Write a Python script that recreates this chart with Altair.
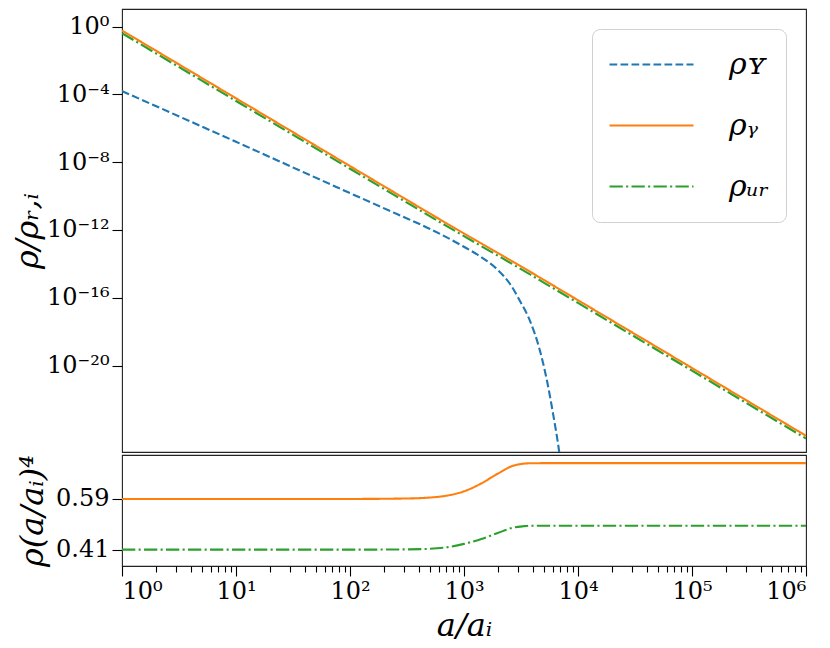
import altair as alt
import pandas as pd

# ---- data ----
series_labels = ["ρʏ", "ρᵧ", "ρᵤᵣ"]
series_colors = ["#1f77b4", "#ff7f0e", "#2ca02c"]
series_dashes = [[7.7, 3.3], [1, 0], [13.3, 3.3, 2.1, 3.3]]

a_lines = [1, 10, 100, 300, 500, 700, 1000, 1400, 2000, 2700, 3300, 3800, 5000, 1e4, 1e5, 1e6]
rho_gamma = [5.9e-1, 5.9e-5, 5.9e-9, 7.30e-11, 9.52e-12, 2.505e-12, 6.17e-13, 1.676e-13,
             4.26e-14, 1.332e-14, 6.03e-15, 3.437e-15, 1.147e-15, 7.17e-17, 7.17e-21, 7.17e-25]
rho_ur = [4.1e-1, 4.1e-5, 4.1e-9, 5.07e-11, 6.61e-12, 1.741e-12, 4.305e-13, 1.164e-13,
          2.94e-14, 9.18e-15, 4.157e-15, 2.374e-15, 7.92e-16, 4.95e-17, 4.95e-21, 4.95e-25]

a_Y = [1, 10, 100, 258, 504, 980, 1380, 1945, 2535, 3097, 3793, 4645, 5346, 6039, 6808, 7413]
rho_Y = [1.58e-4, 1.6e-7, 1.5e-10, 8.7e-12, 1.15e-12, 1.10e-13, 2.82e-14, 4.9e-15,
         6.5e-16, 6.5e-17, 4.3e-18, 7.2e-20, 1.26e-21, 1.45e-23, 1.0e-25, 1e-27]

scaled_gamma = [0.59, 0.59, 0.59, 0.5915, 0.595, 0.6015, 0.617, 0.644,
                0.681, 0.708, 0.715, 0.7167, 0.717, 0.717, 0.717, 0.717]
scaled_ur = [0.41, 0.41, 0.41, 0.411, 0.413, 0.418, 0.4305, 0.447,
             0.470, 0.488, 0.493, 0.495, 0.495, 0.495, 0.495, 0.495]

y_top_ticks = [1, 1e-4, 1e-8, 1e-12, 1e-16, 1e-20]
y_top_exps = [0, -4, -8, -12, -16, -20]
x_major_exps = [0, 1, 2, 3, 4, 5, 6]
x_ticks = [m * 10 ** k for k in range(6) for m in range(1, 10)] + [1e6]
y_bot_ticks = [0.41, 0.59]

# ---- tables ----
top_df = pd.DataFrame({
    "a": a_Y + a_lines + a_lines,
    "value": rho_Y + rho_gamma + rho_ur,
    "series": [series_labels[0]] * len(a_Y) + [series_labels[1]] * len(a_lines) + [series_labels[2]] * len(a_lines),
})
bot_df = pd.DataFrame({
    "a": a_lines + a_lines,
    "value": scaled_gamma + scaled_ur,
    "series": [series_labels[1]] * len(a_lines) + [series_labels[2]] * len(a_lines),
})

SUP = str.maketrans("-0123456789", "⁻⁰¹²³⁴⁵⁶⁷⁸⁹")
LG = "round(log(datum.value)/LN10)"
MAJOR = f"abs(log(datum.value)/LN10 - {LG}) < 1e-6"


def pow_expr(exps):
    obj = ", ".join(f"'{e}': '10{str(e).translate(SUP)}'" for e in exps)
    return f"{MAJOR} ? ({{{obj}}})['' + {LG}] : ''"


FONT = "DejaVu Serif"

color_scale = alt.Scale(domain=series_labels, range=series_colors)
dash_scale = alt.Scale(domain=series_labels, range=series_dashes)
x_scale = alt.Scale(type="log", domain=[1, 1e6], nice=False)

top = alt.Chart(top_df).mark_line(clip=True, strokeWidth=2.1, interpolate="monotone").encode(
    x=alt.X("a:Q", scale=x_scale,
            axis=alt.Axis(labels=False, ticks=False, domain=False, grid=False, title=None)),
    y=alt.Y("value:Q",
            scale=alt.Scale(type="log", domain=[7.9e-26, 11], nice=False),
            axis=alt.Axis(values=y_top_ticks, labelExpr=pow_expr(y_top_exps), tickSize=10,
                          labelPadding=3, title="ρ/ρᵣ,ᵢ", titlePadding=2, labelOverlap=False,
                          grid=False, domain=False)),
    color=alt.Color("series:N", scale=color_scale, sort=series_labels,
                    legend=alt.Legend(title=None, orient="top-right", offset=20,
                                      padding=16, cornerRadius=8, strokeColor="#d0d0d0",
                                      fillColor="white", symbolType="stroke", symbolSize=7056,
                                      symbolStrokeWidth=2.1, labelFontSize=30,
                                      labelFontStyle="italic", labelFont=FONT, labelOffset=34,
                                      clipHeight=39, rowPadding=22)),
    strokeDash=alt.StrokeDash("series:N", scale=dash_scale, sort=series_labels),
).properties(width=684, height=443)

bottom = alt.Chart(bot_df).mark_line(clip=True, strokeWidth=2.1, interpolate="monotone").encode(
    x=alt.X("a:Q", scale=x_scale,
            axis=alt.Axis(values=x_ticks, labelExpr=pow_expr(x_major_exps),
                          tickSize={"condition": {"test": MAJOR, "value": 10}, "value": 6},
                          labelPadding=3, labelOverlap=False, title="a/aᵢ", titlePadding=7,
                          grid=False, domain=False)),
    y=alt.Y("value:Q", scale=alt.Scale(domain=[0.352, 0.746], nice=False, zero=False),
            axis=alt.Axis(values=y_bot_ticks, format=".2f", tickSize=10, labelPadding=3,
                          title="ρ(a/aᵢ)⁴", titlePadding=6, grid=False, domain=False)),
    color=alt.Color("series:N", scale=color_scale, legend=None),
    strokeDash=alt.StrokeDash("series:N", scale=dash_scale, legend=None),
).properties(width=684, height=111)

chart = alt.vconcat(
    top, bottom, spacing=0, padding={"left": 3, "top": 0, "right": 0, "bottom": 0}
).resolve_scale(
    color="independent", strokeDash="independent"
).configure(background="white", font=FONT).configure_view(
    stroke="#222222", strokeWidth=1.1
).configure_axis(
    labelFont=FONT, labelFontSize=24, labelColor="black",
    titleFont=FONT, titleFontSize=32, titleFontStyle="italic", titleFontWeight="normal",
    titleColor="black", tickColor="black", tickWidth=1.1,
)

chart.save("out.html", embed_options={"renderer": "svg", "actions": False})
